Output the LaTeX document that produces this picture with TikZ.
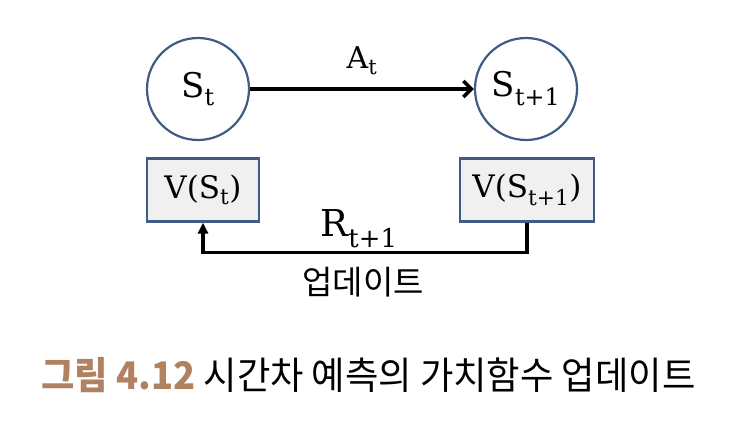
\documentclass[tikz,border=0pt]{standalone}
\usepackage{fontspec}
\usetikzlibrary{arrows.meta}
\setmainfont{DejaVu Serif}
\newfontfamily\kr{Noto Sans CJK KR}
\definecolor{stateblue}{RGB}{62,92,132}
\definecolor{boxfill}{RGB}{240,240,240}
\definecolor{capbrown}{RGB}{176,130,98}

\begin{document}
\begin{tikzpicture}[x=1pt,y=-1pt,
    state/.style={circle,draw=stateblue,line width=2.2pt,minimum size=102pt,inner sep=0pt,font=\fontsize{34}{38}\selectfont},
    valbox/.style={draw=stateblue,fill=boxfill,line width=2.2pt,minimum height=63pt,inner sep=0pt,font=\fontsize{31}{36}\selectfont},
    flow/.style={line width=3.6pt,-{Straight Barb[length=8pt,width=16pt]}},
    lbl/.style={font=\fontsize{#1}{#1}\selectfont}]
  \useasboundingbox (0,0) rectangle (750,431);
  % states
  \node[state] (st) at (198,89) {S\textsubscript{t}};
  \node[state] (stn) at (526,89) {S\textsubscript{t+1}};
  \draw[flow] (st) -- node[lbl=30,above=9pt] {A\textsubscript{t}} (stn);
  % values
  \node[valbox,minimum width=112pt] (vs) at (203,190) {V(S\textsubscript{t})};
  \node[valbox,minimum width=134pt] (vsn) at (527,190) {V(S\textsubscript{t+1})};
  \draw[flow,-{Triangle[length=11pt,width=10pt]}] (vsn.south) -- ++(0,30)
    -| node[pos=0.25,lbl=37,above=0pt,xshift=-6pt] {R\textsubscript{t+1}}
       node[pos=0.25,lbl=33,below=9pt,xshift=-2pt] {\kr 업데이트} (vs.south);
  % caption
  \node[anchor=west,xscale=0.955,font=\kr\fontsize{38}{42}\selectfont] (cap) at (38,375)
    {\textcolor{capbrown}{\bfseries 그림 4.12} 시간차 예측의 가치함수 업데이트};
\end{tikzpicture}
\end{document}
